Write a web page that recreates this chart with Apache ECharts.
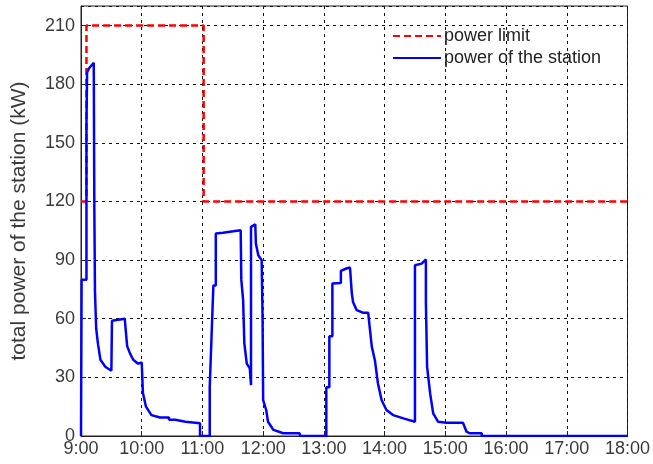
<!DOCTYPE html>
<html>
<head>
<meta charset="utf-8">
<script src="https://cdn.jsdelivr.net/npm/echarts@6/dist/echarts.min.js"></script>
<style>
  html, body { margin: 0; padding: 0; background: #fff; }
  #chart { width: 653px; height: 464px; }
</style>
</head>
<body>
<div id="chart"></div>
<script>
// time in decimal hours, power in kW
const limitTime = [9.0, 9.09, 9.09, 11.02, 11.02, 18.0]
const limitPower = [120, 120, 210, 210, 120, 120]

const stationTime = [
  9.0, 9.01, 9.09, 9.09, 9.10, 9.13, 9.21, 9.22, 9.23, 9.23, 9.25, 9.28, 9.32, 9.40, 9.50, 9.51,
  9.72, 9.75, 9.76, 9.81, 9.86, 9.94, 10.0, 10.02, 10.07, 10.16, 10.30, 10.45, 10.45, 10.55, 10.55,
  10.72, 10.72, 10.96, 10.96,
  11.12, 11.12, 11.15, 11.15, 11.18, 11.18, 11.22, 11.22, 11.34, 11.51, 11.63, 11.64, 11.67, 11.69,
  11.73, 11.78, 11.80, 11.80, 11.87, 11.88, 11.92, 11.975, 11.99, 12.0, 12.05, 12.08, 12.17, 12.33,
  12.60, 12.61,
  13.04, 13.04, 13.09, 13.09, 13.14, 13.14, 13.28, 13.28, 13.37, 13.43, 13.46, 13.48, 13.54, 13.65,
  13.73, 13.76, 13.79, 13.84, 13.89, 13.95, 14.03, 14.14, 14.31, 14.50, 14.50, 14.61, 14.68, 14.68,
  14.70, 14.75, 14.80, 14.88, 15.02, 15.29, 15.31, 15.35, 15.40, 15.60, 15.60, 18.0
]
const stationPower = [
  0, 80, 80, 160, 186, 188, 191, 115, 115, 74, 55, 47, 39, 35.4, 33.4, 59,
  60, 61, 46, 42, 39, 37, 37.6, 22, 15, 10.7, 9.5, 9.5, 8.3, 8.3, 7.3,
  7.3, 6.5, 6.5, 0,
  0, 25, 25, 51, 51, 77, 77, 103.6, 104, 104.7, 105.3, 80, 69.5, 47.4,
  37, 34.6, 26, 107, 108.3, 98.5, 92.5, 90, 61, 18.4, 13.3, 7.3, 3.1, 1.4,
  1.4, 0,
  0, 25, 25, 51, 51, 78, 78.3, 84.5, 85.7, 86.2, 73, 68.6, 64.4, 63,
  63, 54, 45.6, 38.8, 27, 18.4, 13.3, 10.7, 9, 7.3, 87.4, 88.2, 90.3, 68.6,
  35.4, 21.8, 11.6, 7.3, 6.8, 6.8, 7.5, 2.2, 1.4, 1.4, 0, 0
]

const yTicks = [0, 30, 60, 90, 120, 150, 180, 210]

const toPairs = (xs, ys) => xs.map((x, i) => [x, ys[i]])

const chart = echarts.init(document.getElementById('chart'))

const labelStyle = {
  color: '#3a3a3a',
  fontSize: 18,
  fontFamily: 'Liberation Sans, Arial, sans-serif',
}

chart.setOption({
  animation: false,
  grid: {
    left: 81,
    right: 25,
    top: 6,
    bottom: 28,
    show: true,
    borderColor: '#222',
    borderWidth: 1,
  },
  legend: {
    orient: 'vertical',
    left: 387,
    top: 22,
    itemWidth: 48,
    itemHeight: 14,
    itemGap: 4,
    itemStyle: { opacity: 0 },
    textStyle: { ...labelStyle, fontSize: 18, color: '#222', padding: [0, 0, 0, -2] },
    data: ['power limit', 'power of the station'],
  },
  xAxis: {
    type: 'value',
    min: 9,
    max: 18,
    interval: 1,
    axisLine: { onZero: false, lineStyle: { color: '#222', width: 1 } },
    axisTick: { inside: true, length: 5, lineStyle: { color: '#222' } },
    axisLabel: { ...labelStyle, margin: 4, formatter: (v) => v + ':00' },
    splitLine: { show: true, lineStyle: { color: '#111', type: [3, 4], width: 1 } },
  },
  yAxis: {
    type: 'value',
    min: 0,
    max: 220,
    interval: 30,
    name: 'total power of the station (kW)',
    nameLocation: 'middle',
    nameGap: 51,
    nameTextStyle: { ...labelStyle, fontSize: 21 },
    axisLine: { show: true, lineStyle: { color: '#222', width: 1 } },
    axisTick: { show: true, inside: true, length: 5, lineStyle: { color: '#222' } },
    axisLabel: {
      ...labelStyle,
      margin: 6,
      showMaxLabel: false,
      formatter: (v) => (yTicks.includes(v) ? String(v) : ''),
    },
    splitLine: { show: true, lineStyle: { color: '#111', type: [3, 4], width: 1 } },
  },
  series: [
    {
      name: 'power limit',
      type: 'line',
      data: toPairs(limitTime, limitPower),
      symbol: 'none',
      lineStyle: { color: '#ff0000', width: 2.5, type: [7, 4] },
      itemStyle: { color: '#ff0000' },
      z: 3,
    },
    {
      name: 'power of the station',
      type: 'line',
      data: toPairs(stationTime, stationPower),
      symbol: 'none',
      lineStyle: { color: '#0000ff', width: 2.5 },
      itemStyle: { color: '#0000ff' },
      z: 4,
    },
  ],
})
</script>
</body>
</html>
